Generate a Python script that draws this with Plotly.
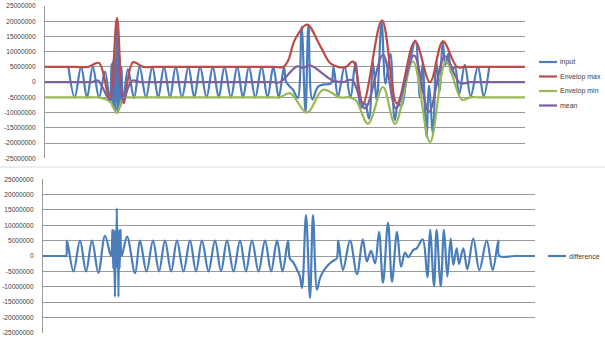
import plotly.graph_objects as go

M = 1e6  # values below are in millions

# ---------------- top chart series (x = sample position) ----------------
input_t = [23.4, 29.7, 36.1, 42, 47.8, 54, 60, 65, 66.5, 67.3, 68.1, 68.9, 69.7, 70.5, 71.3, 72, 72.7,
           73.4, 74.1, 74.9, 75.7, 76.5, 78, 83, 89, 94.6, 101, 107.3, 113.2, 119, 125, 130.7, 137,
           143.4, 149.3, 155.1, 161.5, 167.8, 173.7, 179.5, 185.9, 192.2, 198, 203.9, 210.3, 216.6,
           222.5, 228.3, 233.7, 239, 241, 245, 248, 252.7, 256.6, 260.5, 263.4, 267.3, 273, 278, 286,
           288.5, 293, 299.5, 305.5, 310.5, 316, 320, 324, 328, 331.7, 336.6, 340.5, 345.4, 349.8,
           353.2, 356.4, 361.3, 364.6, 370.4, 375, 377.6, 381.5, 384, 388, 391.2, 394.5, 397.7,
           400.3, 403.6, 405.9, 410, 414, 419.8, 425.7, 432.9, 438.7, 444.2]
input_v = [5, -5, 5, -5, 5, -5, 3.5, -6.4, 6, -8, 7, -8.5, 8, -9.5, 10, 21, -10,
           12, -9, 8, -8, 5, -6.4, 4.3, -5.2, 5, -5, 5, -5, 5, -5, 5, -5,
           5, -5, 5, -5, 5, -5, 5, -5, 5, -5, 5, -5, 5,
           -5, 5, -5, 5, 0.2, -1.5, -2.5, -5.2, 18.1, -10, 18.7, -5.7, -1.5, -0.8, -0.4,
           5, -4.8, 5, -5.2, 6.5, -8.5, -6.9, -12, 6.4, -6.2, 19.6, -0.5, 9.4, -12.5,
           -7.2, -7.8, 0.5, 6, 13.6, -5.1, 6.2, -17.9, -1.2, -17, 7, -3, 13.4,
           5.6, 9.5, 3.2, 5, -4.3, 5.7, -4.6, 5, -4.6, 5]

max_t = [0, 30, 43, 54, 64.5, 72, 78.5, 88, 98, 110, 228, 238, 243, 250, 262, 275, 285, 293,
         301, 308, 318, 337, 352, 370, 385, 398, 412, 420, 480]
max_v = [5, 5, 5, 6.3, -5.8, 21, -6.9, 6.5, 5, 5, 5, 5, 7, 14, 18.9, 12, 6.3, 5,
         5, 6.8, -6.9, 20.3, -7, 13.4, 0, 13.4, 5, 5, 5]

min_t = [0, 45, 53, 62, 66, 72, 78, 85, 95, 228, 235, 245, 262, 278, 295, 305, 311, 323,
         338, 350, 368, 385, 401, 417, 425, 435, 480]
min_v = [-5, -5, -5, -5.8, -6.8, -10.2, -5.3, -5, -5, -5, -5, -3.6, -10, -2.5, -5, -5, -6, -13.7,
         -1.6, -13.7, 6.8, -19.7, 6.8, -5.8, -5, -5, -5]

mean_t = [0, 40, 47, 53, 65, 72, 78, 87, 95, 105, 228, 235, 252, 258, 265, 288, 298, 307,
          320, 338, 351, 369, 384, 400, 415, 425, 435, 480]
mean_v = [0, 0, 0, 0.5, -5.8, 5.4, -5.8, 0.5, 0, 0, 0, 0, 5.2, 4.7, 5.5, 0.5, 0, 0.7,
          -8.6, 9, -8.6, 8.8, -9.7, 8.5, -0.3, 0, 0, 0]

# ---------------- bottom chart series ----------------
diff_t = [0, 21, 22.6, 23.4, 29.7, 36.1, 42, 47.8, 54, 60.5, 66.3, 67.8, 68.5, 69.2, 70.2, 70.9,
          71.5, 72, 72.6, 73.1, 73.6, 74.2, 74.8, 75.5, 76.8, 82, 89.8, 94.6, 101, 107.3, 113.2,
          119, 125, 130.7, 137, 143.4, 149.3, 155.1, 161.5, 167.8, 173.7, 179.5, 185.9, 192.2, 198,
          203.9, 210.3, 216.6, 222.5, 228.3, 233.7, 239, 240.8, 244, 248, 250.5, 252.7, 256.6,
          260.5, 263.4, 267.3, 270, 273, 278, 282, 286.5, 288, 292.7, 299.5, 306.3, 312, 316, 320,
          324, 327.8, 331.7, 336.6, 340.5, 345.4, 349.3, 353.2, 356.4, 361.3, 364.6, 370.4, 375,
          377.6, 381.5, 384, 388, 391.2, 394.5, 397.7, 400.3, 403.6, 405.9, 410, 414, 419.8,
          425.7, 432.9, 438.7, 444.2, 445.2, 460, 480]
diff_v = [0, 0, 0, 5, -5, 5, -5, 5, -5.5, 6.6, 0, 8.5, -4, 8.5, -13.3, 8.5,
          -4, 15.5, -4, 8.5, -13.3, 8.5, -4, 8.5, 0, 6.3, -5.6, 5, -5, 5, -5,
          5, -5, 5, -5, 5, -5, 5, -5, 5, -5, 5, -5, 5, -5,
          5, -5, 5, -5, 5, -5, 5, -0.8, -2, -4.6, -6.5, -10.4, 13.3,
          -13.7, 13.3, -11, -7.5, -5.2, -3, -1.8, -0.8, 5, -4.6, 5, -5.9, 5.4, -1.8, 1.7,
          -2.4, 7.9, -8.7, 10.9, -8.4, 7.9, -3.5, 1.1, -0.4, 2, 2.5, 5.4, -6.9,
          8.5, -9.8, 8.5, -9.8, 8.5, -6.7, 5.7, -2.9, 2.5, -2.6, 2.5, -4.3, 5.7,
          -4.6, 5, -4.6, 5, 0, 0, 0]

y_ticks = [25, 20, 15, 10, 5, 0, -5, -10, -15, -20, -25]
y_tick_text = ["25000000", "20000000", "15000000", "10000000", "5000000", "0", "-5000000",
               "-10000000", "-15000000", "-20000000", "-25000000"]

top_names = ["input", "Envelop max", "Envelop min", "mean"]
bottom_names = ["difference"]
colors = ["#4A7EBB", "#BE4B48", "#98B954", "#7D60A0"]

W, H = 605, 341
def px(x):
    return x / W
def py(y):
    return 1 - y / H

fig = go.Figure()
top_series = [(input_t, input_v), (max_t, max_v), (min_t, min_v), (mean_t, mean_v)]
for (tt, vv), name, col in zip(top_series, top_names, colors):
    fig.add_trace(go.Scatter(x=tt, y=[v * M for v in vv], name=name, mode="lines",
                             line=dict(color=col, width=2.2, shape="spline", smoothing=1),
                             xaxis="x", yaxis="y", showlegend=False, hoverinfo="skip"))
fig.add_trace(go.Scatter(x=diff_t, y=[v * M for v in diff_v], name=bottom_names[0], mode="lines",
                         line=dict(color=colors[0], width=2.2, shape="spline", smoothing=1),
                         xaxis="x2", yaxis="y2", showlegend=False, hoverinfo="skip"))

grid = "#9A9A9A"
tickfont = dict(family="Liberation Sans", size=6.6, color="#404040")
yax = dict(range=[-25 * M, 25 * M], tickvals=[v * M for v in y_ticks], ticktext=y_tick_text,
           showgrid=True, gridcolor=grid, gridwidth=1, zeroline=False, showline=True,
           linecolor=grid, linewidth=1, ticks="", tickfont=tickfont, ticklabelstandoff=7,
           fixedrange=True)
xax = dict(range=[0, 480], showgrid=False, zeroline=False, showline=False,
           showticklabels=False, ticks="", fixedrange=True)

fig.update_layout(
    width=W, height=H,
    margin=dict(l=0, r=0, t=0, b=0, autoexpand=False),
    paper_bgcolor="white", plot_bgcolor="white",
    showlegend=False,
    xaxis=dict(domain=[px(45), px(525)], anchor="y", **xax),
    yaxis=dict(domain=[py(158.3), py(6)], anchor="x", **yax),
    xaxis2=dict(domain=[px(43), px(535)], anchor="y2", **xax),
    yaxis2=dict(domain=[py(332.7), py(179.3)], anchor="x2", **yax),
)

shapes = []
annotations = []
legend_font = dict(family="Liberation Sans", size=7, color="#404040")
for i, (name, col) in enumerate(zip(top_names, colors)):
    yy = [62, 76.5, 91, 105.5][i]
    shapes.append(dict(type="line", xref="paper", yref="paper", x0=px(539), x1=px(557),
                       y0=py(yy), y1=py(yy), line=dict(color=col, width=2.2)))
    annotations.append(dict(xref="paper", yref="paper", x=px(558), y=py(yy), text=name,
                            showarrow=False, xanchor="left", yanchor="middle", font=legend_font))
shapes.append(dict(type="line", xref="paper", yref="paper", x0=px(548), x1=px(566),
                   y0=py(256), y1=py(256), line=dict(color=colors[0], width=2.2)))
annotations.append(dict(xref="paper", yref="paper", x=px(567), y=py(256), text=bottom_names[0],
                        showarrow=False, xanchor="left", yanchor="middle", font=legend_font))
# chart-area separator
shapes.append(dict(type="line", xref="paper", yref="paper", x0=0, x1=1, y0=py(167), y1=py(167),
                   line=dict(color="#D9D9D9", width=1)))
fig.update_layout(shapes=shapes, annotations=annotations)

fig.write_html("out.html")
